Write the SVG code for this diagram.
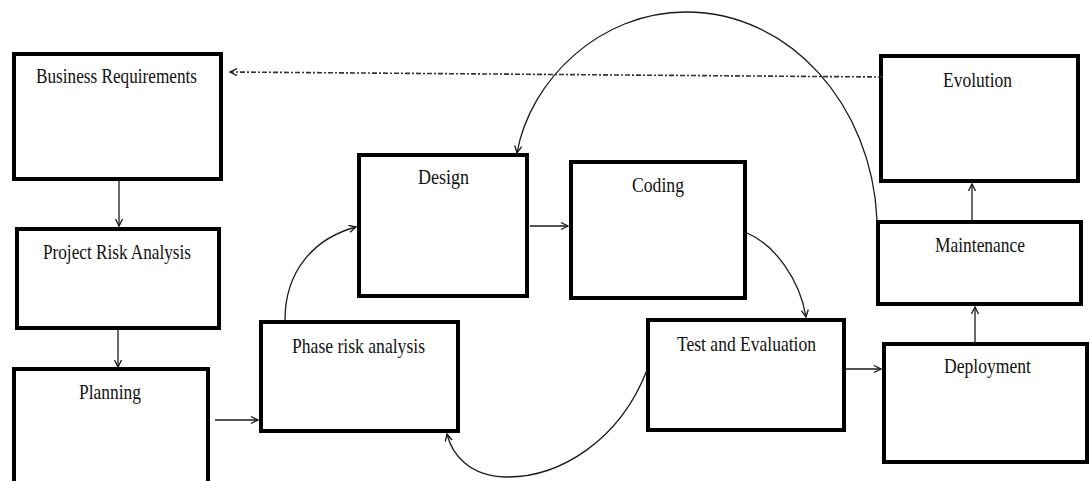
<svg xmlns="http://www.w3.org/2000/svg" width="1090" height="481" viewBox="0 0 1090 481">
  <style>
    .box { fill: #ffffff; stroke: #000000; stroke-width: 4; }
    .label { font-family: "Liberation Serif", "Times New Roman", serif; font-size: 21px; fill: #111111; text-anchor: middle; }
    .conn { fill: none; stroke: #1a1a1a; stroke-width: 1.3; }
    .dashdot { fill: none; stroke: #333333; stroke-width: 1.6; stroke-dasharray: 5 2 2 2; }
  </style>
  <defs>
    <marker id="arrow" markerUnits="userSpaceOnUse" markerWidth="10" markerHeight="10" refX="8" refY="4" orient="auto">
      <path d="M1,0.5 L8,4 L1,7.5" fill="none" stroke="#1a1a1a" stroke-width="1.3"/>
    </marker>
  </defs>
  <rect width="1090" height="481" fill="#ffffff"/>

  <g id="business-requirements">
    <rect class="box" x="14" y="54" width="207" height="125"/>
    <text class="label" x="116.5" y="83" textLength="161" lengthAdjust="spacingAndGlyphs">Business Requirements</text>
  </g>
  <g id="project-risk-analysis">
    <rect class="box" x="17" y="229" width="202" height="99"/>
    <text class="label" x="117" y="259" textLength="148" lengthAdjust="spacingAndGlyphs">Project Risk Analysis</text>
  </g>
  <g id="planning">
    <rect class="box" x="14" y="369" width="194" height="120"/>
    <text class="label" x="110" y="399" textLength="62" lengthAdjust="spacingAndGlyphs">Planning</text>
  </g>
  <g id="phase-risk-analysis">
    <rect class="box" x="261" y="322" width="197" height="109"/>
    <text class="label" x="358.5" y="353" textLength="133" lengthAdjust="spacingAndGlyphs">Phase risk analysis</text>
  </g>
  <g id="design">
    <rect class="box" x="359" y="155" width="168" height="141"/>
    <text class="label" x="443.5" y="184" textLength="51" lengthAdjust="spacingAndGlyphs">Design</text>
  </g>
  <g id="coding">
    <rect class="box" x="571" y="162" width="174" height="136"/>
    <text class="label" x="658" y="192" textLength="52" lengthAdjust="spacingAndGlyphs">Coding</text>
  </g>
  <g id="test-and-evaluation">
    <rect class="box" x="648" y="320" width="196" height="110"/>
    <text class="label" x="746.5" y="351" textLength="139" lengthAdjust="spacingAndGlyphs">Test and Evaluation</text>
  </g>
  <g id="deployment">
    <rect class="box" x="884" y="344" width="203" height="118"/>
    <text class="label" x="987.5" y="373" textLength="87" lengthAdjust="spacingAndGlyphs">Deployment</text>
  </g>
  <g id="maintenance">
    <rect class="box" x="878" y="222" width="203" height="82"/>
    <text class="label" x="980" y="252" textLength="90" lengthAdjust="spacingAndGlyphs">Maintenance</text>
  </g>
  <g id="evolution">
    <rect class="box" x="881" y="56" width="197" height="125"/>
    <text class="label" x="977.5" y="87" textLength="69" lengthAdjust="spacingAndGlyphs">Evolution</text>
  </g>

  <g id="connectors">
    <line class="conn" x1="119" y1="181" x2="119" y2="226" marker-end="url(#arrow)"/>
    <line class="conn" x1="118" y1="330" x2="118" y2="367" marker-end="url(#arrow)"/>
    <line class="conn" x1="215" y1="420" x2="258" y2="420" marker-end="url(#arrow)"/>
    <path class="conn" d="M285,320 C285,270 315,238 356,227" marker-end="url(#arrow)"/>
    <line class="conn" x1="530" y1="226" x2="568" y2="226" marker-end="url(#arrow)"/>
    <path class="conn" d="M747,233 C775,245 800,280 806,317" marker-end="url(#arrow)"/>
    <path class="conn" d="M647,370 C620,440 560,478 505,477 C470,476 452,455 447,434" marker-end="url(#arrow)"/>
    <line class="conn" x1="846" y1="369" x2="881" y2="369" marker-end="url(#arrow)"/>
    <line class="conn" x1="975" y1="343" x2="975" y2="307" marker-end="url(#arrow)"/>
    <line class="conn" x1="972" y1="221" x2="972" y2="184" marker-end="url(#arrow)"/>
    <path class="conn" d="M877,220 C872,105 790,12 686,12 C600,12 530,80 517,153" marker-end="url(#arrow)"/>
    <path class="dashdot" d="M883,77 L230,72" marker-end="url(#arrow)"/>
  </g>
</svg>
